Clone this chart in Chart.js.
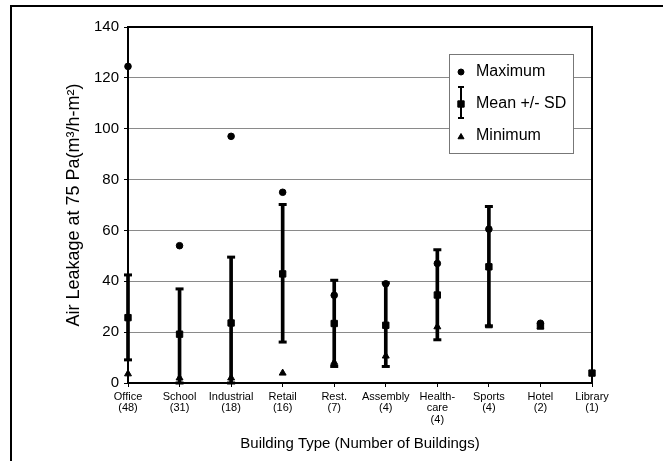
<!DOCTYPE html>
<html>
<head>
<meta charset="utf-8">
<script src="https://cdn.jsdelivr.net/npm/chart.js@4.4.1/dist/chart.umd.min.js"></script>
<style>
  body { margin: 0; background: #fff; }
  #wrap { width: 663px; height: 461px; }
</style>
</head>
<body>
<div id="wrap"><canvas id="myChart" width="663" height="461"></canvas></div>
<script>
// Building types (x axis), one multi-line label per category
var categories = [
    ['Office', '(48)'], ['School', '(31)'], ['Industrial', '(18)'], ['Retail', '(16)'],
    ['Rest.', '(7)'], ['Assembly', '(4)'], ['Health-', 'care', '(4)'], ['Sports', '(4)'],
    ['Hotel', '(2)'], ['Library', '(1)']
];
var maximum = [124.5, 54, 97, 75, 34.5, 39, 47, 60.5, 23.5, null];
var mean    = [25.7, 19.2, 23.6, 42.9, 23.4, 22.7, 34.6, 45.7, 22.5, 3.9];
var sdUpper = [42.5, 37, 49.5, 70.2, 40.4, 39.4, 52.4, 69.4, null, null];
var sdLower = [9.1, 0, 0, 16.1, 6.5, 6.5, 17, 22.5, null, null];
var minimum = [3.6, 2, 2, 3.9, 8.1, 10.6, 22.1, 22.5, 22, null];
var yTicks  = [0, 20, 40, 60, 80, 100, 120, 140];

var FONT = "'Liberation Sans', Arial, sans-serif";

function points(values) {
    var out = [];
    values.forEach(function (v, i) {
        if (v !== null) out.push({ x: i, y: v });
    });
    return out;
}

// error bar stems as floating bars
var stems = [];
var caps = [];
categories.forEach(function (c, i) {
    if (sdUpper[i] === null) return;
    stems.push({ x: i, y: [sdLower[i], sdUpper[i]] });
    caps.push({ x: i, y: sdUpper[i] });
    caps.push({ x: i, y: sdLower[i] });
});

// frame around the plot + outer page border
var framePlugin = {
    id: 'frame',
    afterDatasetsDraw: function (chart) {
        var ctx = chart.ctx, a = chart.chartArea;
        ctx.save();
        ctx.strokeStyle = '#000';
        ctx.lineWidth = 2;
        ctx.strokeRect(a.left, a.top, a.right - a.left, a.bottom - a.top);
        ctx.fillStyle = '#000';
        ctx.fillRect(10, 5, 2, 456);
        ctx.fillRect(10, 5, 653, 2);
        ctx.restore();
    }
};

// legend box drawn inside the plot, top right
var legendPlugin = {
    id: 'boxLegend',
    afterDraw: function (chart) {
        var ctx = chart.ctx;
        var bx = 449, by = 54, bw = 124, bh = 99;
        ctx.save();
        ctx.fillStyle = '#fff';
        ctx.fillRect(bx, by, bw, bh);
        ctx.strokeStyle = '#777';
        ctx.lineWidth = 1;
        ctx.strokeRect(bx + 0.5, by + 0.5, bw, bh);

        ctx.fillStyle = '#000';
        ctx.strokeStyle = '#000';
        var mx = 461;
        Chart.helpers.drawPoint(ctx, { pointStyle: 'circle', radius: 3, borderWidth: 1, rotation: 0 }, mx, 72);
        // I-bar with square
        ctx.fillRect(mx - 1, 87, 2, 31);
        ctx.fillRect(mx - 3, 86, 6, 2);
        ctx.fillRect(mx - 3, 117, 6, 2);
        Chart.helpers.drawPoint(ctx, { pointStyle: 'rect', radius: 4.5, borderWidth: 1, rotation: 0 }, mx, 104);
        Chart.helpers.drawPoint(ctx, { pointStyle: 'triangle', radius: 3.5, borderWidth: 1, rotation: 0 }, mx, 137);

        ctx.font = '16px ' + FONT;
        ctx.textBaseline = 'middle';
        ctx.textAlign = 'left';
        ctx.fillText('Maximum', 476, 72);
        ctx.fillText('Mean +/- SD', 476, 104);
        ctx.fillText('Minimum', 476, 136);
        ctx.restore();
    }
};

var ctx = document.getElementById('myChart').getContext('2d');
var myChart = new Chart(ctx, {
    data: {
        datasets: [{
            type: 'bar',
            label: 'SD',
            data: stems,
            backgroundColor: '#000',
            borderWidth: 0,
            barThickness: 3,
            grouped: false,
            clip: false,
            order: 4
        }, {
            type: 'scatter',
            label: 'caps',
            data: caps,
            pointStyle: 'line',
            radius: 4,
            borderWidth: 3,
            borderColor: '#000',
            clip: false,
            order: 3
        }, {
            type: 'scatter',
            label: 'Minimum',
            data: points(minimum),
            pointStyle: 'triangle',
            radius: 4,
            borderWidth: 1,
            backgroundColor: '#000',
            borderColor: '#000',
            clip: false,
            order: 2
        }, {
            type: 'scatter',
            label: 'Mean +/- SD',
            data: points(mean),
            pointStyle: 'rect',
            radius: 4.5,
            borderWidth: 1,
            backgroundColor: '#000',
            borderColor: '#000',
            clip: false,
            order: 1
        }, {
            type: 'scatter',
            label: 'Maximum',
            data: points(maximum),
            pointStyle: 'circle',
            radius: 3.3,
            borderWidth: 1,
            backgroundColor: '#000',
            borderColor: '#000',
            clip: false,
            order: 0
        }]
    },
    options: {
        responsive: false,
        animation: false,
        events: [],
        layout: { padding: { left: 12, right: 71, top: 27, bottom: 0 } },
        plugins: {
            legend: { display: false },
            tooltip: { enabled: false }
        },
        scales: {
            x: {
                type: 'linear',
                offset: false,
                min: 0,
                max: categories.length - 1,
                afterBuildTicks: function (scale) {
                    scale.ticks = categories.map(function (c, i) { return { value: i }; });
                },
                afterFit: function (scale) { scale.height = 78; },
                grid: { offset: false, drawOnChartArea: false, tickLength: 4, tickColor: '#000', lineWidth: 1 },
                border: { display: false },
                ticks: {
                    autoSkip: false,
                    maxRotation: 0,
                    padding: 4,
                    color: '#000',
                    font: { family: FONT, size: 11, lineHeight: 1.05 },
                    callback: function (value) { return categories[value]; }
                },
                title: {
                    display: true,
                    text: 'Building Type (Number of Buildings)',
                    color: '#000',
                    font: { family: FONT, size: 15 },
                    padding: { top: 0, bottom: 8 }
                }
            },
            y: {
                min: 0,
                max: 140,
                afterBuildTicks: function (scale) {
                    scale.ticks = yTicks.map(function (v) { return { value: v }; });
                },
                afterFit: function (scale) { scale.width = 116; },
                grid: { color: '#8a8a8a', lineWidth: 1, tickLength: 4, tickColor: '#000' },
                border: { display: false },
                ticks: {
                    padding: 5,
                    color: '#000',
                    font: { family: FONT, size: 15 }
                },
                title: {
                    display: true,
                    text: 'Air Leakage at 75 Pa(m³/h-m²)',
                    color: '#000',
                    font: { family: FONT, size: 18 },
                    padding: { top: 51, bottom: 0 }
                }
            }
        }
    },
    plugins: [framePlugin, legendPlugin]
});
</script>
</body>
</html>
